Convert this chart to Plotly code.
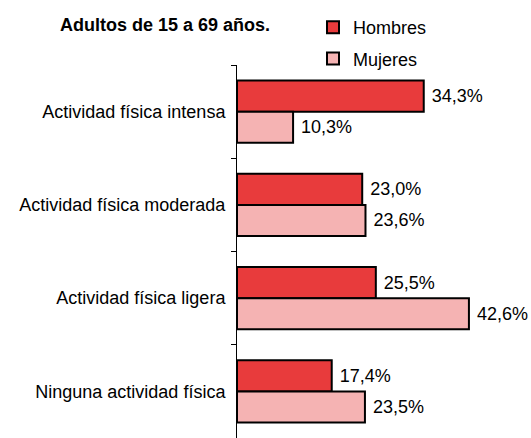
import plotly.graph_objects as go

categories = ["Actividad física intensa", "Actividad física moderada",
              "Actividad física ligera", "Ninguna actividad física"]
hombres = [34.3, 23.0, 25.5, 17.4]
mujeres = [10.3, 23.6, 42.6, 23.5]
series_names = ["Hombres", "Mujeres"]
title_text = "Adultos de 15 a 69 años."

W, H = 531, 438
L, T, B, R = 237, 65, 0, 0
PW, PH = W - L - R, H - T - B
FONT = "Arial, Liberation Sans, sans-serif"

fig = go.Figure()
for name, vals, color in [(series_names[0], hombres, "#E83B3C"),
                          (series_names[1], mujeres, "#F5B3B3")]:
    fig.add_trace(go.Bar(
        y=categories, x=vals, name=name, orientation="h",
        marker=dict(color=color, line=dict(color="black", width=2)),
        texttemplate="\u00a0%{x:.1f}%", textposition="outside",
        textfont=dict(size=18, color="black", family=FONT),
        cliponaxis=False, legendgroup=name,
    ))

fig.update_layout(
    width=W, height=H,
    margin=dict(l=L, r=R, t=T, b=B, pad=0, autoexpand=False),
    paper_bgcolor="white", plot_bgcolor="white",
    separators=", ",
    barmode="group", bargap=0.333, bargroupgap=0,
    font=dict(family=FONT, size=18, color="black"),
    title=dict(text="<b>" + title_text + "</b>", x=60 / W, xanchor="left",
               xref="container", y=1 - 25 / H, yanchor="middle", yref="container",
               font=dict(size=18, family=FONT, color="black")),
    legend=dict(x=(313 - L) / PW, xref="paper", xanchor="left",
                y=(H - B - 9) / PH, yref="paper", yanchor="top",
                font=dict(size=18, family=FONT, color="black"),
                tracegroupgap=5, bgcolor="rgba(0,0,0,0)"),
    xaxis=dict(visible=False, range=[0, 54]),
    yaxis=dict(autorange="reversed", showline=True, linecolor="black", linewidth=1,
               ticks="outside", ticklen=5, tickcolor="black", tickson="boundaries",
               ticklabelstandoff=7, showgrid=False, zeroline=False, automargin=False,
               tickfont=dict(size=18, family=FONT, color="black")),
)

fig.write_html("out.html", config={"displayModeBar": False},
               post_script="document.body.style.margin='0px';document.body.style.overflow='hidden';")
